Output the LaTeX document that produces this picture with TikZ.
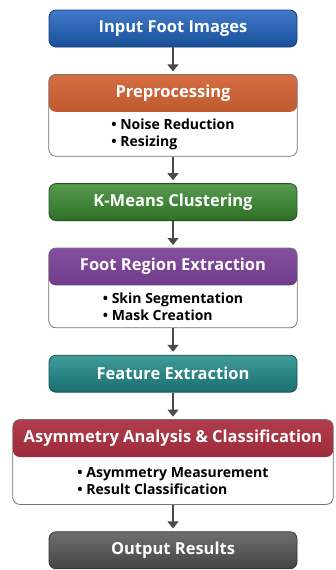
\documentclass[tikz,border=0pt]{standalone}
\usepackage{fontspec}
\setmainfont{Open Sans}
\usetikzlibrary{arrows.meta, positioning, fit, backgrounds}

\definecolor{inputcol}{HTML}{1F62BF}
\definecolor{prepcol}{HTML}{CE5420}
\definecolor{kmeanscol}{HTML}{3A8A30}
\definecolor{regioncol}{HTML}{6E2F8E}
\definecolor{featcol}{HTML}{1F8A8A}
\definecolor{asymcol}{HTML}{A31A2C}
\definecolor{outputcol}{HTML}{555555}
\definecolor{arrowgray}{HTML}{4A4A4A}

\begin{document}
\begin{tikzpicture}[
    x=1pt, y=1pt,
    node distance=27pt,
    stage/.style={rectangle, draw=#1!60!black, line width=0.8pt, top color=#1!85!white, bottom color=#1!80!black, text=white, font=\bfseries\fontsize{16.5}{19}\selectfont, minimum width=248pt, minimum height=37pt, rounded corners=7pt, inner sep=2pt},
    head/.style={rectangle, text=white, font=\bfseries\fontsize{16.5}{19}\selectfont, minimum width=248pt, minimum height=37pt, inner sep=2pt},
    items/.style={align=left, font=\bfseries\fontsize{14}{17}\selectfont, inner sep=0pt},
    frame/.style 2 args={draw=gray!90!black, line width=0.8pt, fill=white, rounded corners=7pt, inner sep=0pt,
        path picture={\shade[top color=#1!85!white, bottom color=#1!80!black] (path picture bounding box.north west) rectangle (#2.south -| path picture bounding box.east);}},
    flow/.style={draw=arrowgray, line width=1.3pt, -{Triangle[width=11pt,length=7pt]}, shorten >=3pt}
]
    \useasboundingbox (0,0) rectangle (335,-570);

    % Stage 1: input
    \node [stage=inputcol] (input) at (173,-28.5) {Input Foot Images};

    % Stage 2: preprocessing with sub-steps
    \node [head, below=of input] (prep) {Preprocessing};
    \node [items, minimum height=44pt, below=0pt of prep] (prepitems) {\textbullet\ Noise Reduction\\ \textbullet\ Resizing};

    % Stage 3: clustering
    \node [stage=kmeanscol, below=of prepitems] (kmeans) {K-Means Clustering};

    % Stage 4: foot region with sub-steps
    \node [head, below=of kmeans] (region) {Foot Region Extraction};
    \node [items, minimum height=42pt, below=0pt of region] (regionitems) {\textbullet\ Skin Segmentation\\ \textbullet\ Mask Creation};

    % Stage 5: features
    \node [stage=featcol, below=of regionitems] (feature) {Feature Extraction};

    % Stage 6: asymmetry with sub-steps
    \node [head, minimum width=320pt, below=of feature] (asym) {Asymmetry Analysis \& Classification};
    \node [items, minimum height=47pt, below=0pt of asym] (asymitems) {\textbullet\ Asymmetry Measurement\\ \textbullet\ Result Classification};

    % Stage 7: output
    \node [stage=outputcol, below=of asymitems] (output) {Output Results};

    % Framed stages (on background layer)
    \begin{scope}[on background layer]
        \node [frame={prepcol}{prep}, fit=(prep) (prepitems)] (prepbox) {};
        \node [frame={regioncol}{region}, fit=(region) (regionitems)] (regionbox) {};
        \node [frame={asymcol}{asym}, fit=(asym) (asymitems)] (asymbox) {};
    \end{scope}

    % Connections
    \draw [flow] (input) -- (prep);
    \draw [flow] (prepbox) -- (kmeans);
    \draw [flow] (kmeans) -- (region);
    \draw [flow] (regionbox) -- (feature);
    \draw [flow] (feature) -- (asym);
    \draw [flow] (asymbox) -- (output);

\end{tikzpicture}
\end{document}
